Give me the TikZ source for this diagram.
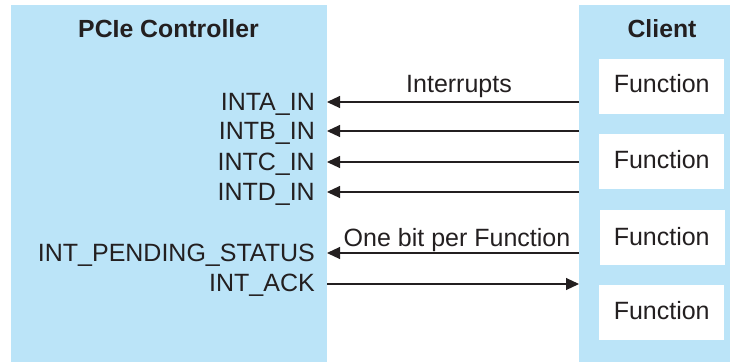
\documentclass[tikz,border=0pt]{standalone}
\usepackage{fontspec}
\setmainfont{Liberation Sans}
\usetikzlibrary{arrows.meta}
\definecolor{panel}{RGB}{187,228,248}
\definecolor{ink}{RGB}{35,31,32}
\tikzset{
  panelbox/.style={fill=panel, draw=none},
  funcbox/.style={fill=white, draw=none},
  title/.style={font=\fontsize{24.8}{28}\selectfont\bfseries, text=ink, inner sep=0pt, anchor=base},
  lbl/.style={font=\fontsize{25}{28}\selectfont, text=ink, inner sep=0pt},
  sig/.style={draw=ink, line width=1.1pt, -{Triangle[length=13pt,width=12pt]}},
}
\begin{document}
\begin{tikzpicture}[x=1pt,y=-1pt]
\useasboundingbox (0,0) rectangle (730,362);
% panels
\path[panelbox] (11,5) rectangle (327,362);
\coordinate (ctrlE) at (327,5);
\path[panelbox] (579,5) rectangle (730,362);
\coordinate (cliW) at (579,5);
\node[title] (ctrlT) at (168.5,37.7) {PCIe Controller};
\node[title] (cliT) at (662,37.7) {Client};
% function boxes
\path[funcbox] (599,59) rectangle (724,114);
\path[funcbox] (599,134) rectangle (724,189);
\path[funcbox] (600,210) rectangle (725,265);
\path[funcbox] (599,285) rectangle (724,340);
\node[lbl, anchor=base] (f1) at (661.7,92.7) {Function};
\node[lbl, anchor=base] (f2) at (661.7,168.3) {Function};
\node[lbl, anchor=base] (f3) at (661.7,245) {Function};
\node[lbl, anchor=base] (f4) at (661.7,319.3) {Function};
% signal labels
\node[lbl, anchor=base east] (sa) at (315,110) {INTA\_IN};
\node[lbl, anchor=base east] (sb) at (315,139) {INTB\_IN};
\node[lbl, anchor=base east] (sc) at (315,170) {INTC\_IN};
\node[lbl, anchor=base east] (sd) at (315,200) {INTD\_IN};
\node[lbl, anchor=base east] (sp) at (315,261) {INT\_PENDING\_STATUS};
\node[lbl, anchor=base east] (sk) at (315,291.5) {INT\_ACK};
\coordinate (ya) at (0,102);
\coordinate (yb) at (0,131);
\coordinate (yc) at (0,162);
\coordinate (yd) at (0,192);
\coordinate (yp) at (0,253);
\coordinate (yk) at (0,284);
\draw[sig] (cliW |- ya) -- (ctrlE |- ya);
\draw[sig] (cliW |- yb) -- (ctrlE |- yb);
\draw[sig] (cliW |- yc) -- (ctrlE |- yc);
\draw[sig] (cliW |- yd) -- (ctrlE |- yd);
\draw[sig] (cliW |- yp) -- (ctrlE |- yp);
\draw[sig] (ctrlE |- yk) -- (cliW |- yk);
\node[lbl, anchor=base] (intr) at (459,92.7) {Interrupts};
\node[lbl, anchor=base] (obpf) at (457,246.7) {One bit per Function};
\end{tikzpicture}
\end{document}
